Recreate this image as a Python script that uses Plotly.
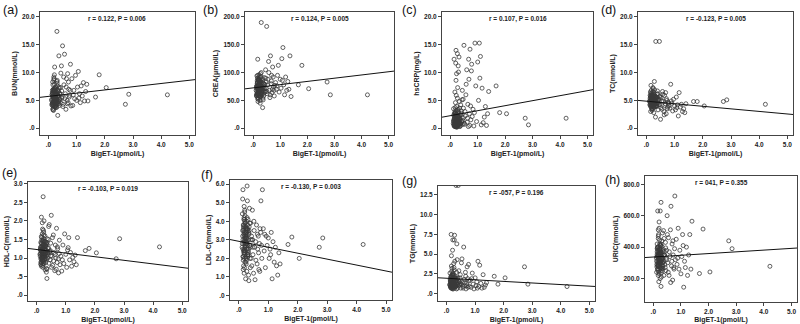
import plotly.graph_objects as go

# Shared BigET-1 (pmol/L) values (x for every panel)
bigET1 = [
    0.12,0.14,0.15,0.16,0.17,0.18,0.19,0.20,0.21,0.22,
    0.13,0.15,0.17,0.18,0.20,0.22,0.23,0.24,0.25,0.26,
    0.14,0.16,0.18,0.19,0.21,0.23,0.25,0.27,0.28,0.30,
    0.15,0.17,0.19,0.21,0.24,0.26,0.29,0.31,0.33,0.35,
    0.16,0.18,0.20,0.22,0.25,0.28,0.32,0.34,0.37,0.40,
    0.12,0.19,0.23,0.27,0.30,0.33,0.36,0.38,0.41,0.44,
    0.14,0.17,0.21,0.24,0.26,0.29,0.31,0.35,0.39,0.43,
    0.46,0.48,0.50,0.52,0.55,0.57,0.60,0.62,0.64,0.66,
    0.68,0.70,0.72,0.75,0.78,0.47,0.51,0.54,0.58,0.63,
    0.67,0.71,0.74,0.77,0.80,
    0.83,0.86,0.90,0.93,0.96,1.00,1.03,1.06,1.10,1.13,
    1.16,1.20,1.24,1.28,1.32,1.36,1.40,0.88,1.08,
    1.67,1.80,2.05,2.73,2.85,4.22,
    0.11,0.13,0.14,0.16,0.17,0.18,0.19,0.20,0.21,0.22,
    0.23,0.24,0.25,0.26,0.27,0.28,0.29,0.30,0.31,0.32,
    0.15,0.16,0.18,0.19,0.20,0.21,0.22,0.23,0.24,0.26,
    0.27,0.28,0.30,0.33,0.35,0.37,0.40,0.42,0.45,0.48,
    0.13,0.17,0.19,0.21,0.23,0.25,0.28,0.31,0.34,0.38,
]

bun = [
    5.2,4.1,6.3,7.8,3.6,5.5,9.2,4.8,6.9,5.0,
    4.4,8.3,5.8,3.2,6.6,11.0,5.3,7.1,4.6,6.0,
    6.8,5.1,4.0,8.7,5.6,3.9,7.4,5.9,4.3,17.4,
    3.4,7.0,5.4,9.6,4.7,6.2,5.0,8.1,2.3,6.5,
    5.7,4.5,8.9,6.1,3.8,5.2,7.6,4.9,13.0,6.3,
    4.2,6.7,5.5,3.7,8.4,5.9,4.4,7.2,5.1,9.9,
    6.4,3.3,7.9,5.0,6.0,4.6,8.6,5.7,4.1,7.3,
    11.2,5.4,14.8,4.3,7.8,13.3,6.2,3.4,8.9,5.0,
    9.8,4.6,7.0,5.9,11.5,6.7,3.9,9.2,5.3,7.4,
    4.4,8.3,5.6,6.8,4.0,
    8.9,4.1,6.8,5.3,9.5,5.0,7.4,10.2,6.2,4.6,
    7.6,5.8,8.2,4.9,6.6,7.9,4.9,6.0,5.4,
    5.6,9.6,7.3,4.3,6.1,6.0,
    5.0,6.1,4.5,5.8,6.9,4.2,5.3,6.4,4.8,5.6,
    7.2,4.0,5.9,6.6,4.7,5.4,6.2,3.8,5.1,6.8,
    4.6,5.7,6.3,4.9,5.2,7.0,4.4,6.0,5.5,4.1,
    6.5,5.0,4.3,5.8,6.7,4.8,5.3,6.1,4.5,5.6,
    6.0,4.7,5.4,6.9,3.9,5.1,6.4,4.6,5.9,7.4,
]
crea = [
    72,58,85,64,95,70,52,78,66,88,
    61,80,124,55,74,68,92,59,83,71,
    66,90,48,76,62,84,57,98,69,190,
    75,53,87,65,79,45,93,60,72,37,
    82,63,70,96,56,77,67,89,51,74,
    58,86,73,62,100,68,54,81,91,65,
    94,60,71,83,50,76,64,87,58,79,
    105,72,183,62,88,120,68,55,130,80,
    95,64,110,74,58,90,66,78,100,60,
    85,70,92,68,77,
    82,70,95,113,65,88,72,125,145,78,
    60,92,68,84,70,130,57,76,86,
    78,113,71,83,60,60,
    68,75,60,82,71,64,78,58,86,73,
    66,80,62,76,69,84,57,72,79,65,
    74,61,88,70,67,77,63,81,59,75,
    70,85,64,73,68,62,79,71,66,83,
    76,63,72,59,87,69,74,61,78,67,
]
hscrp = [
    1.2,12.4,0.5,2.8,1.7,0.3,4.6,11.7,1.9,0.9,
    2.4,0.7,6.5,1.3,3.2,0.2,9.8,1.6,2.1,5.4,
    0.4,1.8,3.7,0.9,14.0,2.5,1.1,7.3,0.6,2.9,
    1.5,0.3,2.2,8.6,1.0,13.4,3.4,0.8,4.8,1.9,
    0.6,2.7,1.4,5.9,0.2,1.7,12.8,2.3,0.9,3.1,
    3.5,1.2,0.5,2.0,10.1,1.6,0.7,4.2,1.3,6.8,
    0.8,2.6,1.1,3.9,0.4,11.2,1.8,0.3,2.4,5.1,
    1.4,3.6,14.9,0.7,2.2,6.0,10.5,1.1,4.3,0.3,
    8.8,2.6,14.2,1.5,11.5,5.2,0.9,3.0,7.9,1.8,
    12.4,0.5,4.0,10.3,2.1,
    3.4,0.4,15.3,7.6,1.2,11.9,5.0,15.3,12.9,0.6,
    7.2,1.0,2.0,3.9,0.5,2.6,6.6,2.8,9.0,
    7.6,2.8,2.6,1.8,0.6,1.8,
    0.8,1.5,2.2,0.4,1.1,2.8,0.6,1.9,1.3,0.3,
    2.5,0.9,1.6,0.5,3.3,1.2,0.7,2.0,1.4,0.4,
    1.8,0.6,2.6,1.0,0.3,1.7,2.3,0.8,1.5,3.0,
    0.5,1.2,2.1,0.9,1.6,0.4,2.7,1.1,0.7,1.9,
    1.3,0.6,2.4,0.9,1.5,0.3,2.0,1.2,3.6,0.8,
]
tc = [
    4.8,5.6,3.9,7.7,4.4,5.2,6.3,3.5,5.0,4.6,
    5.9,4.1,6.8,4.9,3.2,5.5,4.3,7.1,5.1,3.8,
    4.5,6.2,5.3,3.6,4.8,6.6,4.0,5.7,8.4,4.7,
    3.0,5.4,4.6,6.0,5.0,3.7,6.9,4.2,15.6,5.3,
    5.8,4.3,3.4,5.1,6.4,4.9,2.0,5.6,4.1,6.2,
    4.2,5.0,7.3,4.6,3.9,5.5,4.4,6.1,3.3,5.2,
    6.5,3.8,4.7,5.4,2.8,4.9,5.8,4.0,6.7,4.5,
    15.6,4.2,1.6,5.5,3.4,6.6,4.8,3.0,5.9,4.1,
    6.4,2.6,5.0,3.8,4.5,5.8,3.7,4.9,6.1,2.4,
    4.4,5.3,3.5,4.7,4.0,
    3.6,7.9,4.5,3.1,5.2,4.0,3.3,5.6,4.2,2.2,
    6.4,3.8,4.3,3.0,3.5,2.8,4.4,4.9,3.7,
    4.8,4.8,4.0,4.8,5.1,4.3,
    4.9,5.4,4.3,5.8,5.1,4.6,5.2,4.0,5.6,4.8,
    5.3,4.5,5.9,4.7,5.0,4.2,5.5,4.9,4.4,5.7,
    5.1,4.6,5.3,4.1,5.8,4.8,5.0,4.4,5.4,4.7,
    6.1,4.3,5.2,4.9,3.9,5.5,4.6,5.0,4.2,5.6,
    4.7,5.3,4.4,5.9,4.8,5.1,4.5,5.4,4.0,5.0,
]
hdl = [
    1.05,1.42,0.82,2.10,1.18,0.95,1.65,1.25,0.75,1.35,
    1.12,0.88,1.55,1.00,1.78,2.65,1.20,0.92,1.45,1.08,
    1.30,0.78,1.15,1.95,1.02,1.38,0.85,1.22,1.60,0.98,
    0.90,1.48,1.10,0.80,1.70,1.25,0.68,1.33,1.05,0.45,
    1.58,1.00,1.28,0.86,2.00,1.12,1.40,0.72,1.18,1.50,
    1.22,0.94,1.75,1.08,1.36,0.62,1.52,1.00,1.85,1.15,
    0.84,1.30,1.04,1.62,0.96,1.44,1.12,0.70,1.26,1.90,
    0.95,1.40,2.15,1.05,0.80,1.62,1.15,0.66,1.35,1.00,
    1.80,0.88,1.25,0.60,1.48,1.20,0.75,1.55,0.92,1.10,
    0.70,1.30,0.98,1.12,0.82,
    1.05,0.65,1.35,0.85,1.65,1.10,0.75,1.22,1.55,0.95,
    1.15,0.78,1.02,0.90,1.08,0.82,1.55,0.95,1.28,
    1.20,1.26,1.14,0.98,1.52,1.30,
    1.10,1.28,0.98,1.40,1.18,1.05,1.32,0.92,1.22,1.48,
    1.02,1.15,1.36,0.96,1.25,1.08,1.44,1.12,0.88,1.30,
    1.20,1.00,1.38,1.14,0.94,1.26,1.06,1.52,1.16,0.90,
    1.34,1.04,1.22,0.98,1.42,1.10,1.28,0.86,1.18,1.06,
    1.24,1.12,0.95,1.46,1.08,1.30,1.00,1.20,1.38,1.14,
]
ldl = [
    2.8,5.7,1.9,3.5,2.3,4.2,1.5,3.1,2.6,3.9,
    5.2,2.1,3.3,1.2,4.5,2.7,3.6,1.8,2.9,4.0,
    3.0,1.6,4.8,2.4,3.7,0.9,2.8,3.4,5.9,2.2,
    1.4,3.8,2.5,4.3,3.2,1.9,2.7,4.1,1.1,3.5,
    3.6,2.0,4.6,2.9,1.7,3.3,2.4,0.8,3.9,2.6,
    4.4,2.2,3.1,1.3,3.8,2.5,4.7,2.0,3.0,1.6,
    2.5,4.1,1.8,3.4,2.9,5.1,2.1,3.7,1.5,3.2,
    4.6,2.2,1.2,3.5,0.85,2.9,3.8,1.7,2.5,3.2,
    1.4,2.8,3.6,5.1,2.0,3.0,4.0,2.6,1.9,3.3,
    2.3,1.3,3.4,2.7,5.7,
    3.6,2.4,1.5,3.2,2.7,3.1,2.0,2.5,3.4,0.9,
    2.9,1.8,2.6,1.6,1.1,2.3,1.7,3.3,2.2,
    2.75,3.15,2.0,2.6,3.1,2.75,
    2.6,3.2,2.1,3.7,2.9,3.4,2.3,3.0,3.9,2.7,
    3.3,2.0,3.6,2.5,3.1,4.2,2.8,3.5,2.2,3.0,
    3.8,2.4,3.2,2.9,4.0,2.6,3.4,2.1,3.7,2.8,
    3.1,2.5,3.6,2.3,3.3,2.7,3.9,2.0,3.0,2.6,
    3.5,2.8,4.1,2.4,3.2,2.9,3.6,2.2,3.4,2.7,
]
tg = [
    1.2,0.8,2.1,7.5,1.5,0.9,3.2,1.7,0.6,2.5,
    1.0,1.9,4.8,0.7,1.4,6.8,2.3,1.1,3.8,0.9,
    1.6,0.7,2.8,1.3,5.5,1.0,1.8,6.8,0.8,2.2,
    0.9,3.5,1.2,2.0,0.6,1.5,4.1,1.1,13.7,2.7,
    1.8,1.0,0.7,2.4,1.3,7.4,0.9,1.6,4.3,1.2,
    2.6,1.4,0.8,3.0,1.1,1.9,6.3,0.7,13.7,1.5,
    1.3,2.2,0.9,1.7,3.3,1.0,2.0,0.6,1.4,2.9,
    1.1,2.4,0.7,3.9,1.5,0.9,5.9,1.8,1.0,2.7,
    0.6,1.3,3.4,0.8,1.6,2.0,1.2,4.4,0.7,1.4,
    2.2,1.0,1.9,3.7,0.9,
    1.7,0.8,2.6,1.2,0.6,2.0,1.0,1.5,4.1,0.9,
    3.6,1.3,0.7,2.4,0.8,1.1,1.4,1.9,0.7,
    2.2,1.2,2.0,3.4,1.2,0.9,
    1.1,1.6,0.9,2.0,1.3,1.8,1.0,1.5,2.3,1.2,
    0.8,1.7,1.4,2.1,1.0,1.3,1.9,1.1,1.6,0.9,
    1.5,2.2,1.2,0.8,1.8,1.4,1.0,2.6,1.3,1.7,
    1.1,1.9,1.4,0.9,1.6,1.2,2.0,1.0,1.5,1.3,
    1.8,1.1,2.4,1.4,0.9,1.7,1.2,1.6,1.0,1.9,
]
uric = [
    310,420,260,630,350,220,480,290,380,330,
    275,395,340,510,240,305,445,360,200,415,
    355,285,470,320,230,390,630,270,685,345,
    400,250,330,560,295,375,210,440,325,265,
    300,455,180,365,410,150,335,280,505,370,
    240,345,420,310,265,490,385,220,350,430,
    390,280,520,315,360,235,405,300,455,270,
    250,380,600,300,460,220,340,510,660,280,
    420,190,350,260,725,330,480,240,370,175,
    310,440,270,390,320,
    450,290,520,260,380,230,340,480,145,310,
    270,400,220,350,480,260,565,330,410,
    232,515,242,440,390,278,
    330,290,370,310,260,400,345,280,360,320,
    385,300,350,270,410,335,295,365,315,250,
    340,380,285,355,305,390,325,275,345,360,
    300,420,330,265,375,310,350,290,395,320,
    340,280,370,305,355,260,385,325,300,345,
]

panel_labels = ["(a)", "(b)", "(c)", "(d)", "(e)", "(f)", "(g)", "(h)"]
y_titles = ["BUN(mmol/L)", "CREA(μmol/L)", "hsCRP(mg/L)", "TC(mmol/L)",
            "HDL-C(mmol/L)", "LDL-C(mmol/L)", "TG(mmol/L)", "URIC(mmol/L)"]
stats_text = ["r = 0.122, P = 0.006", "r = 0.124, P = 0.005", "r = 0.107, P = 0.016",
              "r = -0.123, P = 0.005", "r = -0.103, P = 0.019", "r = -0.130, P = 0.003",
              "r = -057, P = 0.196", "r = 041, P = 0.355"]
series = [bun, crea, hscrp, tc, hdl, ldl, tg, uric]
# fitted line (intercept, slope)
line_intercept = [5.72, 72.5, 2.25, 4.86, 1.23, 2.92, 1.95, 337]
line_slope = [0.58, 5.8, 0.90, -0.46, -0.097, -0.32, -0.20, 11.0]

x_title = "BigET-1(pmol/L)"
x_tickvals = [0, 1, 2, 3, 4, 5]
x_ticktext = [".0", "1.0", "2.0", "3.0", "4.0", "5.0"]
y_tickvals = [
    [0, 5, 10, 15, 20], [0, 50, 100, 150, 200], [0, 5, 10, 15, 20], [0, 5, 10, 15, 20],
    [0, 0.5, 1, 1.5, 2, 2.5, 3], [0, 1, 2, 3, 4, 5, 6], [0, 2.5, 5, 7.5, 10, 12.5],
    [200, 400, 600, 800],
]
y_ticktext = [
    [".0", "5.0", "10.0", "15.0", "20.0"], [".0", "50.0", "100.0", "150.0", "200.0"],
    [".0", "5.0", "10.0", "15.0", "20.0"], [".0", "5.0", "10.0", "15.0", "20.0"],
    [".0", ".5", "1.0", "1.5", "2.0", "2.5", "3.0"],
    [".0", "1.0", "2.0", "3.0", "4.0", "5.0", "6.0"],
    [".0", "2.5", "5.0", "7.5", "10.0", "12.5"],
    ["200.0", "400.0", "600.0", "800.0"],
]

# layout (pixel boxes in the 800x324 canvas)
W, H = 800, 324
boxes = [
    (40, 195, 10, 134), (245, 394, 10, 134), (442, 593, 10, 134), (638, 793, 10, 134),
    (28, 188, 181, 301), (230, 392, 179, 300), (438, 595, 185, 301), (645, 797, 175, 302),
]
y_ranges = [(-1.25, 20.9), (-12.5, 209), (-1.25, 20.9), (-1.25, 20.9),
            (-0.16, 3.05), (-0.25, 6.23), (-0.95, 13.65), (50, 853)]
x_range = (-0.3, 5.2)
# left edge / vertical centre of the panel letters, in pixels
label_pos = [(2, 8), (202, 8), (401, 8), (600, 8), (1, 172), (200, 174), (401, 180), (604, 179)]

FONT = "Liberation Sans, Arial, sans-serif"
fig = go.Figure()
annotations = []
layout_axes = {}
for i in range(8):
    n = i + 1
    xa = "x" if n == 1 else f"x{n}"
    ya = "y" if n == 1 else f"y{n}"
    x0, x1, y0, y1 = boxes[i]
    fig.add_trace(go.Scatter(
        x=bigET1, y=series[i], mode="markers", xaxis=xa, yaxis=ya,
        marker=dict(symbol="circle-open", size=4, color="#3a3a3a", line=dict(width=0.8)),
        showlegend=False, hoverinfo="skip"))
    lx = [x_range[0], x_range[1]]
    ly = [line_intercept[i] + line_slope[i] * v for v in lx]
    fig.add_trace(go.Scatter(x=lx, y=ly, mode="lines", xaxis=xa, yaxis=ya,
                             line=dict(color="#111", width=1), showlegend=False,
                             hoverinfo="skip"))
    common = dict(showline=True, linecolor="#444", linewidth=1, mirror=True,
                  ticks="outside", ticklen=3, tickcolor="#444", showgrid=False,
                  zeroline=False, tickfont=dict(family=FONT, size=6.5, color="#222"))
    layout_axes["xaxis" if n == 1 else f"xaxis{n}"] = dict(
        domain=[x0 / W, x1 / W], range=list(x_range), anchor=ya,
        tickvals=x_tickvals, ticktext=[f"<b>{t}</b>" for t in x_ticktext],
        title=dict(text=f"<b>{x_title}</b>", font=dict(family=FONT, size=7, color="#222"),
                   standoff=4), **common)
    layout_axes["yaxis" if n == 1 else f"yaxis{n}"] = dict(
        domain=[1 - y1 / H, 1 - y0 / H], range=list(y_ranges[i]), anchor=xa,
        tickvals=y_tickvals[i], ticktext=[f"<b>{t}</b>" for t in y_ticktext[i]],
        title=dict(text=f"<b>{y_titles[i]}</b>", font=dict(family=FONT, size=7, color="#222"),
                   standoff=3), **common)
    annotations.append(dict(
        text=f"<b>{stats_text[i]}</b>", xref=f"{xa} domain", yref=f"{ya} domain",
        x=0.5, y=0.94, xanchor="center", yanchor="middle", showarrow=False,
        font=dict(family=FONT, size=6.5, color="#222")))
    lxp, lyp = label_pos[i]
    annotations.append(dict(
        text=panel_labels[i], xref="paper", yref="paper", x=lxp / W, y=1 - lyp / H,
        xanchor="left", yanchor="middle", showarrow=False, borderpad=0,
        font=dict(family=FONT, size=12.5, color="#111")))

fig.update_layout(width=W, height=H, margin=dict(l=0, r=0, t=0, b=0),
                  paper_bgcolor="white", plot_bgcolor="white",
                  annotations=annotations, **layout_axes)
fig.write_html("out.html", config={"displayModeBar": False},
               post_script="document.body.style.margin='0';document.body.style.overflow='hidden';")
